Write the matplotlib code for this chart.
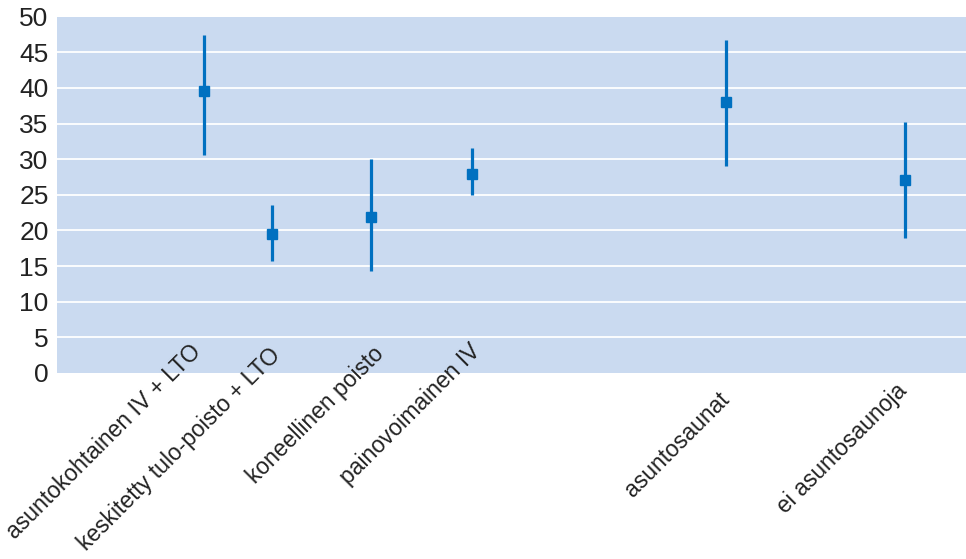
import matplotlib
matplotlib.use("Agg")
import matplotlib.pyplot as plt
from matplotlib.transforms import offset_copy

# Data
categories = [
    "asuntokohtainen IV + LTO",
    "keskitetty tulo-poisto + LTO",
    "koneellinen poisto",
    "painovoimainen IV",
    "asuntosaunat",
    "ei asuntosaunoja",
]
x_pos = [1.62, 2.37, 3.45, 4.57, 7.36, 9.33]
means = [39.6, 19.5, 21.9, 27.9, 38.0, 27.1]
lower = [30.6, 15.7, 14.3, 25.0, 29.1, 19.0]
upper = [47.4, 23.5, 30.0, 31.6, 46.7, 35.2]
y_ticks = [0, 5, 10, 15, 20, 25, 30, 35, 40, 45, 50]

# label tip offsets from (x, axis bottom), in pixels
label_offsets = [(-15, 33), (-4, 29), (2, 31), (-3, 33), (-8, -15), (-10, -6)]

BG = "#cadaf0"
BLUE = "#0070c0"

fig = plt.figure(figsize=(9.66, 5.59), dpi=100)
ax = fig.add_axes([0.059, 0.333, 0.941, 0.637])
ax.set_facecolor(BG)

err = [[m - lo for m, lo in zip(means, lower)],
       [hi - m for m, hi in zip(means, upper)]]
ax.errorbar(x_pos, means, yerr=err, fmt="s", color=BLUE, ecolor=BLUE,
            elinewidth=2.3, markersize=7.5, capsize=0, zorder=3)

ax.set_xlim(0, 10)
ax.set_ylim(0, 50)
ax.set_yticks(y_ticks)
ax.set_yticklabels([str(t) for t in y_ticks], fontsize=19, color="#222222",
                   family=["Liberation Sans", "DejaVu Sans"])
ax.tick_params(axis="y", length=0, pad=6)
ax.set_xticks([])

for y in y_ticks[1:-1]:
    ax.axhline(y, color="white", lw=1.3, zorder=1)

for s in ax.spines.values():
    s.set_visible(False)

base = ax.get_xaxis_transform()
for x, lab, (dx, dy) in zip(x_pos, categories, label_offsets):
    tr = offset_copy(base, fig=fig, x=dx, y=dy, units="dots")
    ax.text(x, 0, lab, transform=tr, rotation=45, rotation_mode="anchor",
            ha="right", va="top", fontsize=16.5, color="#222222",
            family=["Liberation Sans", "DejaVu Sans"], zorder=4,
            clip_on=False)

fig.savefig("out.png", dpi=100)
